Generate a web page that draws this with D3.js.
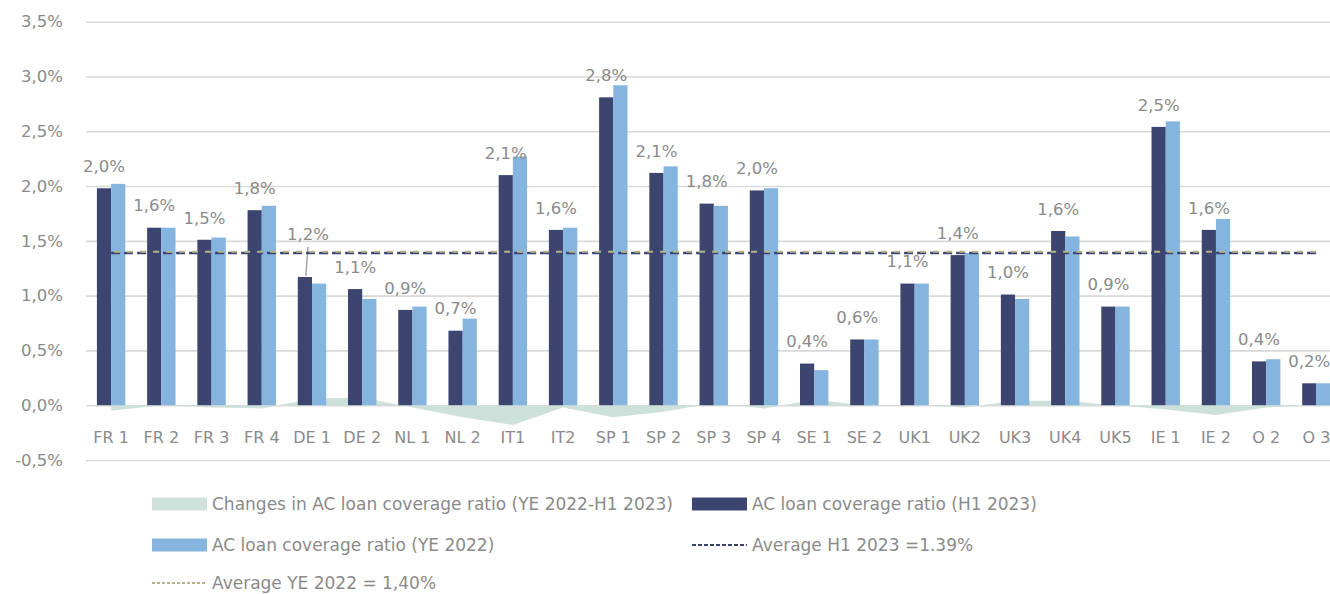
<!DOCTYPE html>
<html>
<head>
<meta charset="utf-8">
<script src="https://cdn.jsdelivr.net/npm/d3@7"></script>
<style>
  body { margin: 0; background: #fff; }
  svg text { font-family: "DejaVu Sans", sans-serif; fill: #8a8a8a; }
</style>
</head>
<body>
<svg id="chart" width="1330" height="594"></svg>
<script>
// categories (banks)
const categories = ["FR 1", "FR 2", "FR 3", "FR 4", "DE 1", "DE 2", "NL 1", "NL 2", "IT1", "IT2",
  "SP 1", "SP 2", "SP 3", "SP 4", "SE 1", "SE 2", "UK1", "UK2", "UK3", "UK4", "UK5",
  "IE 1", "IE 2", "O 2", "O 3"];

// AC loan coverage ratio (H1 2023), in %
const coverageH1 = [1.98, 1.62, 1.51, 1.78, 1.17, 1.06, 0.87, 0.68, 2.10, 1.60,
  2.81, 2.12, 1.84, 1.96, 0.38, 0.60, 1.11, 1.37, 1.01, 1.59, 0.90,
  2.54, 1.60, 0.40, 0.20];

// AC loan coverage ratio (YE 2022), in %
const coverageYE = [2.02, 1.62, 1.53, 1.82, 1.11, 0.97, 0.90, 0.79, 2.27, 1.62,
  2.92, 2.18, 1.82, 1.98, 0.32, 0.60, 1.11, 1.39, 0.97, 1.54, 0.90,
  2.59, 1.70, 0.42, 0.20];

// Changes in AC loan coverage ratio (YE 2022 - H1 2023), in %
const coverageChange = [-0.05, 0.00, -0.02, -0.03, 0.06, 0.07, -0.02, -0.11, -0.18, -0.02,
  -0.11, -0.06, 0.02, -0.03, 0.05, 0.00, 0.00, -0.02, 0.04, 0.04, 0.00,
  -0.04, -0.09, -0.02, 0.00];

const avgH1 = 1.39;
const avgYE = 1.40;

const yTicks = [-0.5, 0, 0.5, 1.0, 1.5, 2.0, 2.5, 3.0, 3.5];

const legendLabels = [
  "Changes in AC loan coverage ratio (YE 2022-H1 2023)",
  "AC loan coverage ratio (H1 2023)",
  "AC loan coverage ratio (YE 2022)",
  "Average H1 2023 =1.39%",
  "Average YE 2022 = 1,40%"
];

const colors = {
  change: "#cde0da",
  h1: "#3c4570",
  ye: "#85b4df",
  avgH1: "#3c4570",
  avgYE: "#b6b48a",
  grid: "#d9d9d9"
};

const svg = d3.select("#chart");

const locale = d3.formatLocale({ decimal: ",", thousands: ".", grouping: [3], currency: ["", "€"], minus: "-" });
const pct = v => locale.format(".1f")(v) + "%";

const left = 86, right = 1341.5;
const x = d3.scaleBand()
  .domain(categories)
  .range([left, right])
  .paddingInner(0.4345)
  .paddingOuter(0.4345 / 2);

const sub = d3.scaleBand()
  .domain(["h1", "ye"])
  .range([0, x.bandwidth()]);

const y = d3.scaleLinear()
  .domain([-0.5, 3.5])
  .range([460, 21.7]);

const cx = c => x(c) + x.bandwidth() / 2;

// gridlines + y tick labels
const yAxis = svg.append("g")
  .attr("transform", `translate(${left},0)`)
  .call(d3.axisLeft(y).tickValues(yTicks).tickFormat(pct)
    .tickSize(-(right - left)).tickPadding(23));
yAxis.select(".domain").remove();
yAxis.selectAll(".tick line").attr("stroke", colors.grid).attr("stroke-width", 1.6);
yAxis.selectAll(".tick text").attr("font-size", 16.5).attr("fill", "#8a8a8a")
  .style("font-family", "DejaVu Sans");

// change area
const area = d3.area()
  .x((d, i) => cx(categories[i]))
  .y0(y(0))
  .y1(d => y(d));

svg.append("path")
  .datum(coverageChange)
  .attr("fill", colors.change)
  .attr("d", area);

// bars
const groups = svg.append("g").selectAll("g")
  .data(categories)
  .join("g")
  .attr("transform", d => `translate(${x(d)},0)`);

groups.append("rect")
  .attr("x", sub("h1"))
  .attr("width", sub.bandwidth())
  .attr("y", (d, i) => y(coverageH1[i]))
  .attr("height", (d, i) => y(0) - y(coverageH1[i]))
  .attr("fill", colors.h1);

groups.append("rect")
  .attr("x", sub("ye"))
  .attr("width", sub.bandwidth())
  .attr("y", (d, i) => y(coverageYE[i]))
  .attr("height", (d, i) => y(0) - y(coverageYE[i]))
  .attr("fill", colors.ye);

// average lines, from first to last category centre
const first = cx(categories[0]), last = cx(categories[categories.length - 1]);
svg.append("line")
  .attr("x1", first).attr("x2", last)
  .attr("y1", y(avgH1)).attr("y2", y(avgH1))
  .attr("stroke", colors.avgH1).attr("stroke-width", 2.5)
  .attr("stroke-dasharray", "9,4");
svg.append("line")
  .attr("x1", first).attr("x2", last)
  .attr("y1", y(avgYE)).attr("y2", y(avgYE))
  .attr("stroke", colors.avgYE).attr("stroke-width", 2)
  .attr("stroke-dasharray", "6,7")
  .attr("stroke-dashoffset", -3);

// category labels
const xAxis = svg.append("g")
  .attr("transform", `translate(0,${y(0)})`)
  .call(d3.axisBottom(x).tickSize(0).tickPadding(26));
xAxis.select(".domain").remove();
xAxis.selectAll(".tick text").attr("font-size", 16).attr("fill", "#8a8a8a")
  .style("font-family", "DejaVu Sans");

// data labels on the H1 2023 series; DE 1 label was dragged up with a leader line
const movedLabel = "DE 1", movedShift = 21;
groups.each(function (d, i) {
  const g = d3.select(this);
  const bx = sub("h1") + sub.bandwidth() / 2;
  const top = y(coverageH1[i]);
  const shift = d === movedLabel ? movedShift : 0;
  const ly = top - 22 - shift;
  if (shift) {
    g.append("line")
      .attr("x1", bx + 3).attr("y1", ly + 13)
      .attr("x2", bx + 1).attr("y2", top - 1)
      .attr("stroke", "#a6a6a6").attr("stroke-width", 1.5);
  }
  g.append("text")
    .attr("x", bx + (shift ? 3 : 0))
    .attr("y", ly)
    .attr("dy", "0.35em")
    .attr("text-anchor", "middle")
    .attr("font-size", 16.5)
    .text(pct(coverageH1[i]));
});

// legend
const legend = svg.append("g");
const legendItems = [
  { label: legendLabels[0], type: "box", color: colors.change, x: 152, y: 504 },
  { label: legendLabels[1], type: "box", color: colors.h1, x: 692, y: 504 },
  { label: legendLabels[2], type: "box", color: colors.ye, x: 152, y: 545 },
  { label: legendLabels[3], type: "dash", color: colors.avgH1, dash: "4,2", x: 692, y: 545 },
  { label: legendLabels[4], type: "dash", color: colors.avgYE, dash: "3,2", x: 152, y: 583 }
];
legendItems.forEach(it => {
  if (it.type === "box") {
    legend.append("rect")
      .attr("x", it.x).attr("y", it.y - 6.5)
      .attr("width", 55).attr("height", 13)
      .attr("fill", it.color);
  } else {
    legend.append("line")
      .attr("x1", it.x).attr("x2", it.x + 55)
      .attr("y1", it.y).attr("y2", it.y)
      .attr("stroke", it.color).attr("stroke-width", 2)
      .attr("stroke-dasharray", it.dash);
  }
  legend.append("text")
    .attr("x", it.x + 60).attr("y", it.y)
    .attr("dy", "0.35em")
    .attr("font-size", 17)
    .text(it.label);
});
</script>
</body>
</html>
